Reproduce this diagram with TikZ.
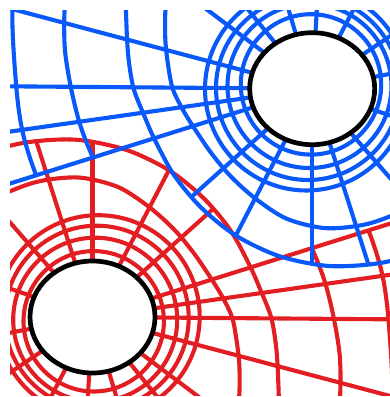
\documentclass[tikz,border=0pt]{standalone}
\definecolor{gblue}{RGB}{8,88,250}
\definecolor{gred}{RGB}{226,30,34}
\tikzset{
  gl/.style={line width=4.1pt},
  bodyshape/.style={draw=black, fill=white, line width=4.7pt}
}
\newcommand{\mygrid}{%
  \foreach \cx/\cy/\rr in {311/84.4/70.2, 309.5/86/82, 308/88/92, 306.5/89/101.5}
    {\draw[gl] ({(\cx-312.2)/1.116},{88.7-\cy}) ellipse [x radius={\rr/1.116}, y radius=\rr];}
  \draw[gl] plot[smooth] coordinates {(135:170) (145:158) (150:152) (160:140) (170:131) (180:125) (190:118) (200:113) (215:111) (230:114) (245:121) (260:132) (275:140) (290:144) (305:147) (320:152)};
  \draw[gl] plot[smooth] coordinates {(140:205) (150:192) (160:177) (170:167) (180:160) (190:153) (200:150) (215:151) (230:155) (245:162) (260:170) (275:178) (290:185) (305:193) (320:205)};
  \begin{scope}
    \clip (0,0) -- (199.3:800) -- (150:800) -- (100:800) -- cycle;
    \draw[gl] plot[smooth] coordinates {(140:265) (150:250) (160:236) (170:225) (180:216) (190:211) (200:208) (210:206)};
    \draw[gl] plot[smooth] coordinates {(140:320) (150:300) (163.6:280) (180:265) (190:263) (200:262) (210:262)};
  \end{scope}
  \foreach \a in {163.5,179.5,189,199.3} {\draw[gl] (\a:50) -- (\a:600);}
  \begin{scope}
    \clip plot[smooth] coordinates {(140:205) (150:192) (160:177) (170:167) (180:160) (190:153) (200:150) (215:151) (230:155) (245:162) (260:170) (275:178) (290:185) (305:193) (320:205)} -- (320:800) -- (0:800) -- (90:800) -- (140:800) -- cycle;
    \foreach \a in {140,126,105,87,65,37,12,-21,-52,-74,-90,-115,-135} {\draw[gl] (\a:50) -- (\a:600);}
  \end{scope}
}
\begin{document}
\begin{tikzpicture}[x=1pt,y=-1pt]
\useasboundingbox (0,0) rectangle (390,397);
\begin{scope}
  \clip (10,10) rectangle (394.7,395.7);
  \begin{scope}[shift={(92.5,317)}, xscale=-1.116, yscale=1, gred]
    \mygrid
  \end{scope}
  \begin{scope}[shift={(312.2,88.7)}, xscale=1.116, yscale=-1, gblue]
    \mygrid
  \end{scope}
\end{scope}
\draw[bodyshape] (312.2,88.7) ellipse [x radius=62.5, y radius=56];
\draw[bodyshape] (92.5,317) ellipse [x radius=62.5, y radius=56];
\end{tikzpicture}
\end{document}
